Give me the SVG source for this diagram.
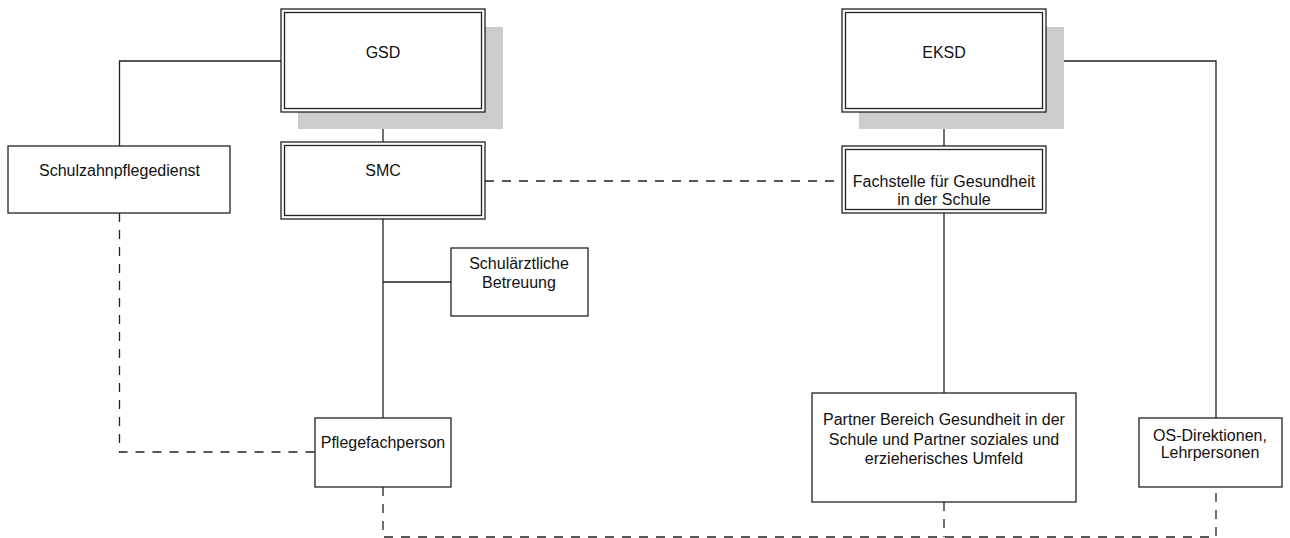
<svg xmlns="http://www.w3.org/2000/svg" width="1290" height="538" viewBox="0 0 1290 538">
<style>
  .bg { fill: #ffffff; }
  .box { fill: #ffffff; stroke: #222222; stroke-width: 1.3; }
  .inner { fill: none; stroke: #222222; stroke-width: 1.3; }
  .shadow { fill: #cccccc; stroke: none; }
  .lbl { font-family: "Liberation Sans", Arial, sans-serif; font-size: 16px; fill: #111111; text-anchor: middle; }
  .solid { fill: none; stroke: #222222; stroke-width: 1.3; }
  .dash { fill: none; stroke: #222222; stroke-width: 1.3; stroke-dasharray: 9 8; }
</style>
<rect class="bg" x="0" y="0" width="1290" height="538"/>
<g id="connectors">
  <polyline class="solid" points="281,61 119.5,61 119.5,146"/>
  <line class="solid" x1="383" y1="112" x2="383" y2="142"/>
  <line class="solid" x1="383" y1="219" x2="383" y2="418"/>
  <line class="solid" x1="383" y1="282" x2="451" y2="282"/>
  <line class="solid" x1="944" y1="112" x2="944" y2="146"/>
  <line class="solid" x1="944" y1="213" x2="944" y2="393"/>
  <polyline class="solid" points="1046,61 1216,61 1216,418"/>
  <line class="dash" x1="485" y1="181" x2="842" y2="181"/>
  <polyline class="dash" points="119.5,213 119.5,452 315,452"/>
  <polyline class="dash" points="383,487 383,537 1216,537 1216,487"/>
  <line class="dash" x1="944" y1="502" x2="944" y2="537"/>
</g>
<g id="gsd">
  <rect class="shadow" x="298" y="27" width="205" height="102"/>
  <rect class="box" x="281" y="9" width="204" height="103"/>
  <rect class="inner" x="284.5" y="12.5" width="197" height="96"/>
  <text class="lbl" x="383" y="58">GSD</text>
</g>
<g id="smc">
  <rect class="box" x="281" y="142" width="204" height="77"/>
  <rect class="inner" x="284.5" y="145.5" width="197" height="70"/>
  <text class="lbl" x="383" y="176">SMC</text>
</g>
<g id="eksd">
  <rect class="shadow" x="859" y="27" width="205" height="102"/>
  <rect class="box" x="842" y="9" width="204" height="103"/>
  <rect class="inner" x="845.5" y="12.5" width="197" height="96"/>
  <text class="lbl" x="944" y="58">EKSD</text>
</g>
<g id="fachstelle">
  <rect class="box" x="842" y="146" width="204" height="67"/>
  <rect class="inner" x="845.5" y="149.5" width="197" height="60"/>
  <text class="lbl" x="944" y="187">Fachstelle für Gesundheit</text>
  <text class="lbl" x="944" y="205">in der Schule</text>
</g>
<g id="schulzahnpflegedienst">
  <rect class="box" x="8" y="146" width="222" height="67"/>
  <text class="lbl" x="119.5" y="176">Schulzahnpflegedienst</text>
</g>
<g id="schulaerztliche">
  <rect class="box" x="451" y="248" width="137" height="68"/>
  <text class="lbl" x="519" y="269">Schulärztliche</text>
  <text class="lbl" x="519" y="287.5">Betreuung</text>
</g>
<g id="pflegefachperson">
  <rect class="box" x="315" y="418" width="136" height="69"/>
  <text class="lbl" x="383" y="448">Pflegefachperson</text>
</g>
<g id="partner">
  <rect class="box" x="812" y="393" width="264" height="109"/>
  <text class="lbl" x="944" y="425">Partner Bereich Gesundheit in der</text>
  <text class="lbl" x="944" y="444.5">Schule und Partner soziales und</text>
  <text class="lbl" x="944" y="464">erzieherisches Umfeld</text>
</g>
<g id="os-direktionen">
  <rect class="box" x="1139" y="418" width="143" height="69"/>
  <text class="lbl" x="1210" y="441">OS-Direktionen,</text>
  <text class="lbl" x="1210" y="457.5">Lehrpersonen</text>
</g>
</svg>
